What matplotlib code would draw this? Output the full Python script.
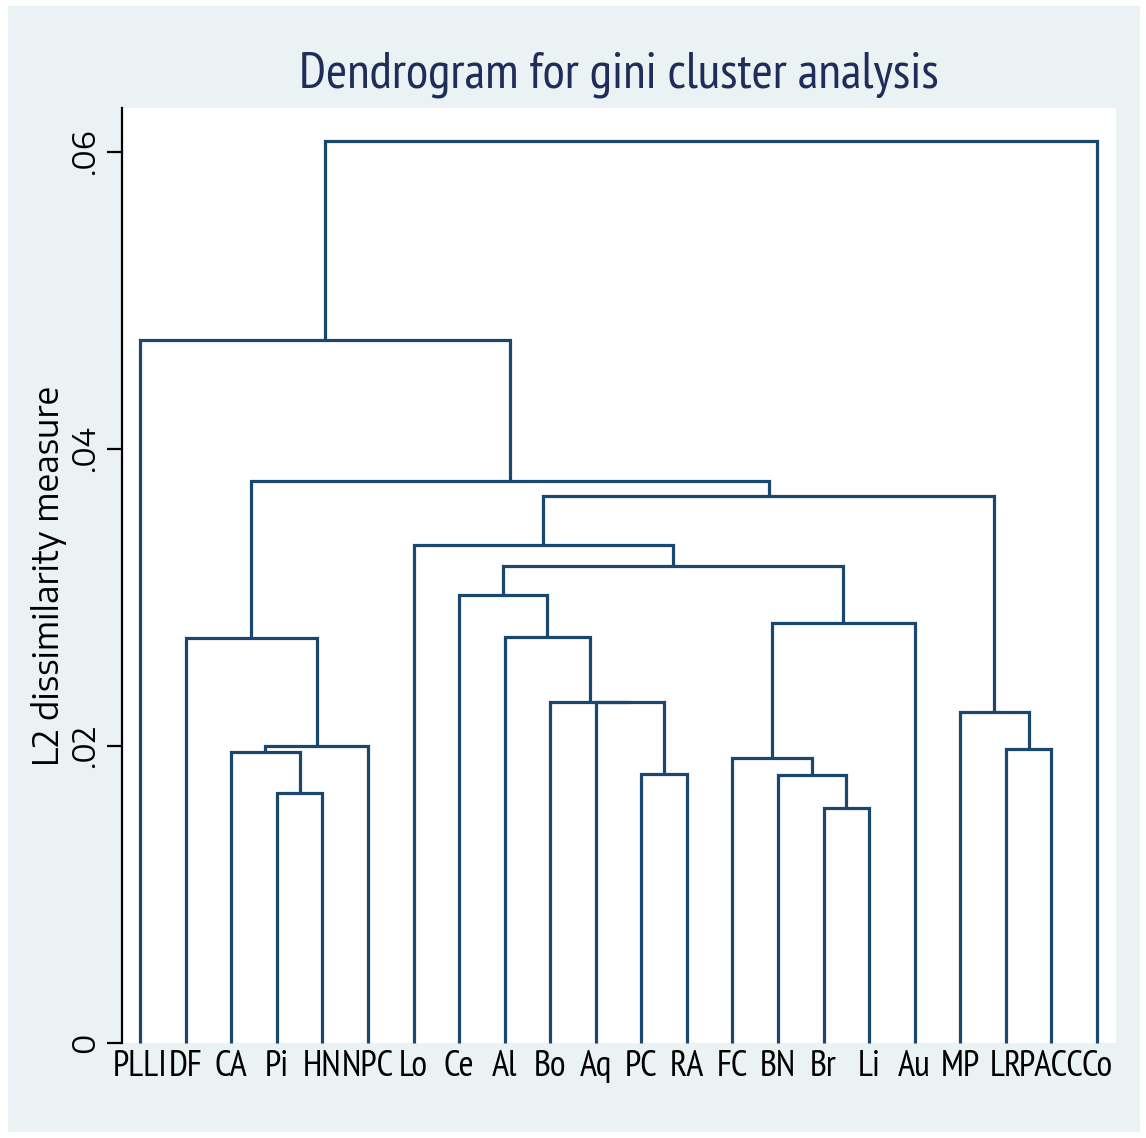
import matplotlib
matplotlib.use("Agg")
import matplotlib.pyplot as plt
from matplotlib.patches import Rectangle
from matplotlib import font_manager

# ---- data ----
leaf_labels = ["PLLI", "DF", "CA", "Pi", "HN", "NPC", "Lo", "Ce", "Al", "Bo", "Aq",
               "PC", "RA", "FC", "BN", "Br", "Li", "Au", "MP", "LR", "PACC", "Co"]
# merges: new node ids start at len(leaf_labels)
merge_left = [3, 2, 23, 1, 11, 10, 9, 8, 7, 15, 14, 13, 33, 30, 6, 19, 18, 36, 25, 0, 41]
merge_right = [4, 22, 5, 24, 12, 26, 27, 28, 29, 16, 31, 32, 17, 34, 35, 20, 37, 38, 39, 40, 21]
merge_height = [0.01684, 0.01962, 0.0200, 0.02727, 0.01811, 0.02294, 0.02298, 0.02734,
                0.03017, 0.01582, 0.01805, 0.01919, 0.02828, 0.03212, 0.03354, 0.0198,
                0.02229, 0.03684, 0.03785, 0.04734, 0.06074]
ytick_vals = [0, 0.02, 0.04, 0.06]
ytick_labels = ["0", ".02", ".04", ".06"]

avail = {f.name for f in font_manager.fontManager.ttflist}
def pick(cands, default):
    for c in cands:
        if c in avail:
            return c
    return default

fam = pick(["Liberation Sans Narrow", "Arial Narrow", "PT Sans Narrow", "Roboto Condensed",
            "Archivo Narrow", "Asap Condensed"], "Liberation Sans")
rot_fam = pick(["Encode Sans Semi Expanded", "Encode Sans Expanded", "Saira Semi Expanded",
                "DejaVu Sans"], "DejaVu Sans")
plt.rcParams['font.family'] = [fam, 'DejaVu Sans']

W, H = 1146, 1138
fig = plt.figure(figsize=(W / 100, H / 100), dpi=100, facecolor="white")
fig.patches.append(Rectangle((8 / W, 6 / H), (1140 - 8) / W, (1132 - 6) / H,
                             transform=fig.transFigure, facecolor="#EAF2F3",
                             edgecolor="none", zorder=-10))
ax = fig.add_axes([122 / W, (H - 1043) / H, (1116 - 122) / W, (1043 - 108) / H])
ax.set_zorder(1)
ax.set_facecolor("white")

line_color = "#1A476F"
n = len(leaf_labels)
xpos = {i: float(i) for i in range(n)}
hpos = {i: 0.0 for i in range(n)}
for k, (a, b, h) in enumerate(zip(merge_left, merge_right, merge_height)):
    node = n + k
    ax.plot([xpos[a], xpos[a], xpos[b], xpos[b]], [hpos[a], h, h, hpos[b]],
            color=line_color, lw=2.3, solid_joinstyle="miter", solid_capstyle="butt",
            clip_on=False)
    xpos[node] = (xpos[a] + xpos[b]) / 2
    hpos[node] = h

ax.set_xlim(-0.4, 21.42)
ax.set_ylim(0, (1043 - 108) / 14850)

for s in ["top", "right", "bottom"]:
    ax.spines[s].set_visible(False)
ax.spines["left"].set_linewidth(1.6)
ax.spines["left"].set_color("black")

ax.set_xticks(range(n))
ax.set_xticklabels(leaf_labels, fontsize=26)
ax.tick_params(axis="x", length=0, pad=5)

# fit rotated texts to the reference lengths
renderer = fig.canvas.get_renderer()
def fit_size(s, target_px, base=20):
    t = fig.text(0, 0, s, fontsize=base, family=rot_fam)
    w = t.get_window_extent(renderer).width
    t.remove()
    return base * target_px / w

tick_fs = fit_size(".02", 44)
ylab_fs = fit_size("L2 dissimilarity measure", 380)

ax.set_yticks(ytick_vals)
ax.set_yticklabels(ytick_labels, fontsize=tick_fs, rotation=90, va="center",
                   family=[rot_fam, "DejaVu Sans"])
ax.tick_params(axis="y", length=11, width=1.6, pad=4)

ax.set_ylabel("L2 dissimilarity measure", fontsize=ylab_fs, family=[rot_fam, "DejaVu Sans"])
ax.yaxis.set_label_coords(-(122 - 49) / (1116 - 122), 0.5)
ax.yaxis.label.set_va("center")

fig.text(619 / W, 1 - 75 / H, "Dendrogram for gini cluster analysis",
         fontsize=37, color="#1E2D5A", ha="center", va="center")

fig.savefig("out.png", dpi=100, facecolor="white")
